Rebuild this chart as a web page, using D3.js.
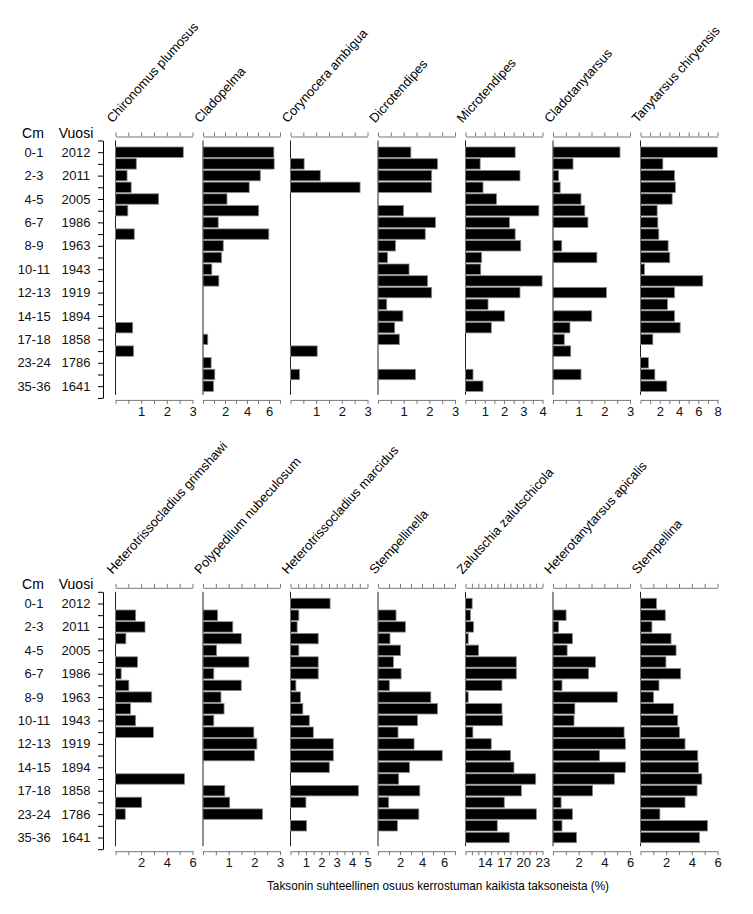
<!DOCTYPE html>
<html>
<head>
<meta charset="utf-8">
<script src="https://cdn.jsdelivr.net/npm/d3@7"></script>
<style>
  body { margin: 0; background: #fff; }
  svg { font-family: "Liberation Sans", Arial, sans-serif; }
</style>
</head>
<body>
<svg width="753" height="914"></svg>
<script>
// depth / age labels, shown on every other sample
const depthLabels = ["0-1","2-3","4-5","6-7","8-9","10-11","12-13","14-15","17-18","23-24","35-36"];
const yearLabels = ["2012","2011","2005","1986","1963","1943","1919","1894","1858","1786","1641"];

// top row taxa
const chironomus = [2.64,0.81,0.45,0.61,1.68,0.48,0,0.73,0,0,0,0,0,0,0,0.67,0,0.70,0,0,0];
const cladopelma = [6.44,6.47,5.21,4.2,2.18,5.06,1.38,5.98,1.84,1.69,0.8,1.44,0,0,0,0,0.43,0,0.74,1.07,0.95];
const corynocera = [0,0.53,1.16,2.71,0,0,0,0,0,0,0,0,0,0,0,0,0,1.04,0,0.35,0];
const dicrotendipes = [1.28,2.32,2.09,2.09,0,0.99,2.24,1.84,0.68,0.37,1.21,1.93,2.09,0.34,0.97,0.65,0.83,0,0,1.46,0];
const microtendipes = [2.58,0.76,2.83,0.91,1.61,3.81,2.28,2.58,2.87,0.84,0.79,3.98,2.83,1.17,2.03,1.34,0,0,0,0.39,0.91];
const cladotanytarsus = [2.61,0.78,0.22,0.28,1.09,1.24,1.36,0,0.34,1.71,0,0,2.08,0,1.51,0.66,0.44,0.69,0,1.09,0];
const tanytarsus = [7.98,2.32,3.53,3.63,3.29,1.73,1.80,1.90,2.87,3.04,0.42,6.47,3.53,2.80,3.53,4.12,1.28,0,0.83,1.49,2.73];

// bottom row taxa
const hGrimshawi = [0,1.57,2.30,0.81,0,1.72,0.44,1.04,2.82,1.17,1.57,2.95,0,0,0,5.38,0,2.04,0.76,0,0];
const polypedilum = [0,0.57,1.16,1.49,0.53,1.79,0.42,1.49,0.70,0.82,0.42,1.98,2.10,2.01,0,0,0.85,1.04,2.32,0,0];
const hMarcidus = [2.57,0.54,0.43,1.80,0.54,1.80,1.80,0.35,0.65,0.80,1.22,1.48,2.78,2.78,2.52,0,4.41,1.0,0,1.04,0];
const stempellinella = [0,1.64,2.49,1.09,2.04,1.40,2.10,1.03,4.80,5.41,3.59,1.82,3.28,5.84,2.86,1.88,3.80,0.97,3.71,1.76,0];
const zalutschia = [12.04,11.78,12.25,11.42,13.03,18.92,18.92,16.68,11.42,16.68,16.78,12.15,15.01,18.03,18.55,21.94,19.70,17.04,22.04,15.95,17.82];
const heterotanytarsus = [0,1.02,0.44,1.51,1.10,3.32,2.77,0.70,5.01,1.70,1.64,5.54,5.64,3.63,5.64,4.78,3.08,0.63,1.51,0.70,1.83];
const stempellina = [1.25,1.93,0.89,2.38,2.77,1.98,3.13,1.44,1.02,2.58,2.90,3.03,3.47,4.46,4.52,4.78,4.41,3.47,1.51,5.22,4.60];

// name, values, [min, max], tick step, labelled ticks
const topRow = [
  ["Chironomus plumosus", chironomus, [0, 3], 0.5, [1, 2, 3]],
  ["Cladopelma", cladopelma, [0, 7], 1, [2, 4, 6]],
  ["Corynocera ambigua", corynocera, [0, 3], 0.5, [1, 2, 3]],
  ["Dicrotendipes", dicrotendipes, [0, 3], 0.5, [1, 2, 3]],
  ["Microtendipes", microtendipes, [0, 4], 0.5, [1, 2, 3, 4]],
  ["Cladotanytarsus", cladotanytarsus, [0, 3], 0.5, [1, 2, 3]],
  ["Tanytarsus chiryensis", tanytarsus, [0, 8], 1, [2, 4, 6, 8]]
];
const bottomRow = [
  ["Heterotrissocladius grimshawi", hGrimshawi, [0, 6], 1, [2, 4, 6]],
  ["Polypedilum nubeculosum", polypedilum, [0, 3], 0.5, [1, 2, 3]],
  ["Heterotrissocladius marcidus", hMarcidus, [0, 5], 0.5, [1, 2, 3, 4, 5]],
  ["Stempellinella", stempellinella, [0, 7], 1, [2, 4, 6]],
  ["Zalutschia zalutschicola", zalutschia, [11, 23], 1, [14, 17, 20, 23]],
  ["Heterotanytarsus apicalis", heterotanytarsus, [0, 6], 1, [2, 4, 6]],
  ["Stempellina", stempellina, [0, 6], 1, [2, 4, 6]]
];

const svg = d3.select("svg");
const nRows = 21;
const rowStep = 11.7;
const panelLeft = 115.5, panelGap = 87.5, panelW = 77;
const axisX = 103;

function drawGroup(taxa, y0) {
  const y = d3.scaleLinear().domain([0, nRows + 1]).range([y0, y0 + rowStep * (nRows + 1)]);
  const yEnd = y(nRows + 1);
  const g = svg.append("g");

  // depth axis
  const depthAxis = d3.axisLeft(y)
    .tickValues(d3.range(0, nRows + 2))
    .tickSize(5).tickSizeOuter(0)
    .tickFormat("");
  g.append("g").attr("transform", `translate(${axisX},0)`).call(depthAxis)
    .call(a => a.selectAll("line,path").attr("stroke", "#000"));

  g.append("text").attr("x", 33).attr("y", y0 - 3).attr("text-anchor", "middle")
    .attr("font-size", 14).text("Cm");
  g.append("text").attr("x", 76).attr("y", y0 - 3).attr("text-anchor", "middle")
    .attr("font-size", 14).text("Vuosi");

  depthLabels.forEach((d, i) => {
    const yy = y(i * 2 + 1) + 4.5;
    g.append("text").attr("x", 34).attr("y", yy).attr("text-anchor", "middle")
      .attr("font-size", 13).attr("fill", "#111").text(d);
    g.append("text").attr("x", 76).attr("y", yy).attr("text-anchor", "middle")
      .attr("font-size", 13).attr("fill", "#111").text(yearLabels[i]);
  });

  taxa.forEach(([name, vals, dom, step, labels], p) => {
    const left = panelLeft + p * panelGap;
    const x = d3.scaleLinear().domain(dom).range([left, left + panelW]);
    const ticks = d3.range(dom[0], dom[1] + step / 2, step);
    const pg = g.append("g");

    pg.append("g").attr("transform", `translate(0,${y0 - 4})`)
      .call(d3.axisTop(x).tickValues(ticks).tickSize(4).tickSizeOuter(0).tickFormat(""))
      .call(a => a.selectAll("line,path").attr("stroke", "#777"));

    pg.append("g").attr("transform", `translate(0,${yEnd + 2})`)
      .call(d3.axisBottom(x).tickValues(ticks).tickSize(4).tickSizeOuter(0)
        .tickFormat(d => labels.includes(d) ? d : ""))
      .call(a => a.selectAll("line,path").attr("stroke", "#777"))
      .call(a => a.selectAll("text").attr("font-size", 13).attr("fill", "#111")
        .attr("font-family", "Liberation Sans, Arial, sans-serif"));

    pg.append("line").attr("x1", left).attr("x2", left)
      .attr("y1", y0).attr("y2", yEnd - 3).attr("stroke", "#222");

    pg.selectAll("rect").data(vals.map((v, i) => ({ v, i })).filter(d => d.v > dom[0]))
      .join("rect")
      .attr("x", left)
      .attr("y", d => y(d.i + 1) - 5.2)
      .attr("width", d => x(d.v) - left)
      .attr("height", 10.4)
      .attr("fill", "#000")
      .attr("stroke", "#888")
      .attr("stroke-width", 0.8);

    pg.append("text")
      .attr("transform", `translate(${left - 3},${y0 - 17}) rotate(-48)`)
      .attr("font-size", 13).text(name);
  });
}

drawGroup(topRow, 140.5);
drawGroup(bottomRow, 591.8);

svg.append("text").attr("x", 438).attr("y", 890).attr("text-anchor", "middle")
  .attr("font-size", 13.5).attr("textLength", 342).attr("lengthAdjust", "spacingAndGlyphs")
  .text("Taksonin suhteellinen osuus kerrostuman kaikista taksoneista (%)");
</script>
</body>
</html>
